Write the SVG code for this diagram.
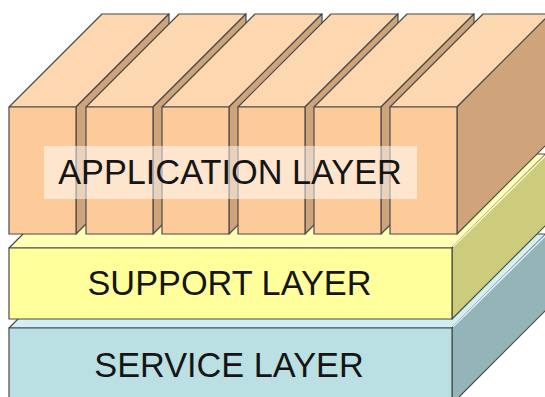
<svg xmlns="http://www.w3.org/2000/svg" xmlns:xlink="http://www.w3.org/1999/xlink" width="545" height="397" viewBox="0 0 545 397">
<style>
.e{stroke:#4a4a4a;stroke-width:1.2;stroke-linejoin:round}
.af{fill:#fdca9a}.at{fill:#fdd7b0}.as{fill:#d0a47b}
.sf{fill:#ffff9c}.st{fill:#ffffb8}.ss{fill:#cccc7c}
.vf{fill:#bbe0e4}.vt{fill:#d2f0f3}.vs{fill:#95b4b9}
.t{font-family:"Liberation Sans",Arial,sans-serif;font-size:34.3px;fill:#151515;text-anchor:middle}
</style>
<defs>
<g id="blk">
<polygon class="at e" points="0,107 67,107 160,14 93,14"/>
<polygon class="as e" points="67,107 160,14 160,141 67,234"/>
<rect class="af e" x="0" y="107" width="67" height="127"/>
</g>
</defs>
<rect width="545" height="397" fill="#fff"/>
<g id="service-layer">
<polygon class="vt e" points="9,328 452,328 546,234 103,234"/>
<polygon class="vs e" points="452,328 546,234 546,310 452,404"/>
<rect class="vf e" x="9" y="328" width="443" height="76"/>
<line x1="453" y1="327" x2="546" y2="235" stroke="#e4f8fa" stroke-width="1.5"/>
<text class="t" x="229" y="377">SERVICE LAYER</text>
</g>
<g id="support-layer">
<polygon class="st e" points="9,248 452,248 546,154 103,154"/>
<polygon class="ss e" points="452,248 546,154 546,225 452,319"/>
<rect class="sf e" x="9" y="248" width="443" height="71"/>
<line x1="453" y1="247" x2="546" y2="155" stroke="#ffffc8" stroke-width="1.5"/>
<text class="t" x="229.5" y="295">SUPPORT LAYER</text>
</g>
<g id="application-layer">
<g id="app-block-1" transform="translate(9,0)"><use xlink:href="#blk"/></g>
<g id="app-block-2" transform="translate(86,0)"><use xlink:href="#blk"/></g>
<g id="app-block-3" transform="translate(162,0)"><use xlink:href="#blk"/></g>
<g id="app-block-4" transform="translate(238,0)"><use xlink:href="#blk"/></g>
<g id="app-block-5" transform="translate(314,0)"><use xlink:href="#blk"/></g>
<g id="app-block-6" transform="translate(390,0)"><use xlink:href="#blk"/></g>
<rect x="44" y="146" width="373" height="53" fill="#fff" fill-opacity="0.5"/>
<text class="t" x="230" y="184">APPLICATION LAYER</text>
</g>
</svg>
